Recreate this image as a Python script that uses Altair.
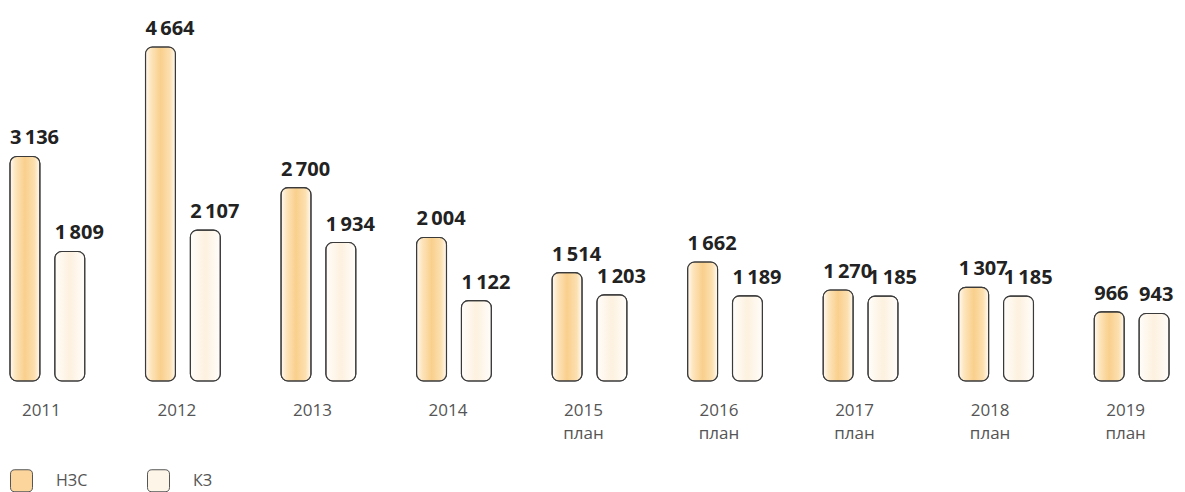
import altair as alt
import pandas as pd

years = ["2011", "2012", "2013", "2014", "2015", "2016", "2017", "2018", "2019"]
year_labels = ["2011", "2012", "2013", "2014", "2015\nплан", "2016\nплан",
               "2017\nплан", "2018\nплан", "2019\nплан"]
series = ["НЗС", "КЗ"]
nzs = [3136, 4664, 2700, 2004, 1514, 1662, 1270, 1307, 966]
kz = [1809, 2107, 1934, 1122, 1203, 1189, 1185, 1185, 943]

df = pd.DataFrame({
    "year": years * 2,
    "series": [series[0]] * len(years) + [series[1]] * len(years),
    "value": nzs + kz,
})
ylab = pd.DataFrame({"year": years, "label": year_labels})

FONT = "Open Sans"
ROUNDED = ("M -0.6 -1 L 0.6 -1 Q 1 -1 1 -0.6 L 1 0.6 Q 1 1 0.6 1 L -0.6 1 "
           "Q -1 1 -1 0.6 L -1 -0.6 Q -1 -1 -0.6 -1 Z")

xenc = alt.X("year:N", axis=None, sort=years,
             scale=alt.Scale(domain=years, paddingInner=0.4485, paddingOuter=0.0147))
xoff = alt.XOffset("series:N", sort=series,
                   scale=alt.Scale(domain=series, paddingInner=1 / 3, paddingOuter=0))
yenc = alt.Y("value:Q", axis=None, scale=alt.Scale(domain=[0, 5209], nice=False))

bars = alt.Chart(df).mark_bar(
    cornerRadius=7, stroke="#3a3a3a", strokeWidth=1.1
).encode(
    x=xenc, xOffset=xoff, y=yenc,
    fill=alt.Fill("series:N", sort=series,
                  scale=alt.Scale(domain=series, range=["#fbd59c", "#fef5e9"]),
                  legend=alt.Legend(title=None, orient="none", legendX=2, legendY=461,
                                    direction="horizontal", columns=2,
                                    symbolType=ROUNDED, symbolSize=484,
                                    symbolStrokeColor="#555", symbolStrokeWidth=1,
                                    symbolOpacity=1,
                                    labelFont=FONT, labelFontSize=16, labelColor="#555",
                                    labelOffset=23, columnPadding=57, padding=0)),
)

grad_nzs = alt.LinearGradient(
    gradient="linear", x1=0, x2=1, y1=0, y2=0,
    stops=[
        alt.GradientStop(color="#fffaf3", offset=0),
        alt.GradientStop(color="#fde5bd", offset=0.18),
        alt.GradientStop(color="#f9cf8c", offset=0.5),
        alt.GradientStop(color="#fce0b0", offset=0.82),
        alt.GradientStop(color="#fffaf3", offset=1),
    ],
)
grad_kz = alt.LinearGradient(
    gradient="linear", x1=0, x2=1, y1=0, y2=0,
    stops=[
        alt.GradientStop(color="#fffdfa", offset=0),
        alt.GradientStop(color="#fdf1df", offset=0.5),
        alt.GradientStop(color="#fffdfa", offset=1),
    ],
)

over_nzs = alt.Chart(df).transform_filter(alt.datum.series == series[0]).mark_bar(
    cornerRadius=7, stroke="#3a3a3a", strokeWidth=1.1, fill=grad_nzs
).encode(x=xenc, xOffset=xoff, y=yenc)

over_kz = alt.Chart(df).transform_filter(alt.datum.series == series[1]).mark_bar(
    cornerRadius=7, stroke="#3a3a3a", strokeWidth=1.1, fill=grad_kz
).encode(x=xenc, xOffset=xoff, y=yenc)

values = alt.Chart(df).transform_calculate(
    lab="replace(format(datum.value, ','), ',', '\u2009')"
).mark_text(
    align="left", baseline="alphabetic", dx=-15, dy=-12,
    font=FONT, fontSize=20, fontWeight=700, color="#222"
).encode(x=xenc, xOffset=xoff, y=yenc, text="lab:N")

yearlabels = alt.Chart(ylab).mark_text(
    align="center", baseline="alphabetic", dx=-6, dy=35, lineBreak="\n", lineHeight=23,
    font=FONT, fontSize=17, color="#555"
).encode(x=xenc, y=alt.datum(0), text="label:N")

chart = alt.layer(bars, over_nzs, over_kz, values, yearlabels).properties(
    width=1163, height=373,
    autosize=alt.AutoSizeParams(type="none"),
    padding={"left": 0, "right": 6, "top": 0, "bottom": 111},
    background="white",
).configure_view(strokeWidth=0, stroke="transparent")

chart.save("out.html", embed_options={"renderer": "svg", "actions": False})
